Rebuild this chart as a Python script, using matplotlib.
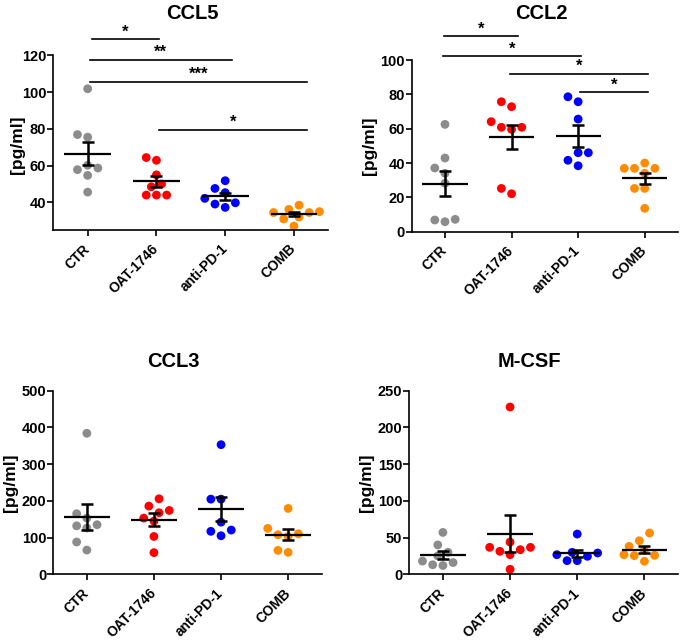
import numpy as np
import matplotlib
matplotlib.use('Agg')
import matplotlib.pyplot as plt

plt.rcParams['font.family'] = ['Liberation Sans', 'DejaVu Sans']
plt.rcParams['font.weight'] = 'bold'

# groups and colours
groups = ['CTR', 'OAT-1746', 'anti-PD-1', 'COMB']
group_colors = ['#8c8c8c', '#ff0000', '#0000ff', '#ff8c00']

# values, pg/ml
ccl5 = [
    [101.8, 76.9, 75.5, 60.2, 57.8, 58.7, 54.7, 45.6],
    [62.9, 64.4, 55.0, 48.5, 50.0, 44.0, 44.0, 44.0],
    [51.8, 47.6, 45.3, 39.8, 37.3, 39.1, 42.2],
    [38.5, 34.5, 36.2, 35.0, 31.0, 34.5, 27.1, 32.0],
]
ccl2 = [
    [62.5, 42.9, 37.1, 34.0, 28.2, 7.2, 5.8, 6.8],
    [64.1, 72.8, 75.7, 60.8, 59.6, 60.8, 22.1, 25.2],
    [78.6, 75.7, 65.6, 46.0, 46.0, 38.4, 41.6],
    [40.0, 36.9, 34.0, 36.9, 36.9, 25.2, 25.2, 13.6],
]
ccl3 = [
    [384, 153, 165, 132, 126, 135, 88, 66],
    [205.6, 167.6, 185.7, 173.9, 145, 153, 103, 59],
    [353, 204.7, 204.7, 142, 120.5, 117, 105],
    [179.3, 125, 107.8, 103, 110.5, 65.2, 59.8],
]
mcsf = [
    [57, 40, 30, 25, 18, 16, 12, 13],
    [227.8, 43.9, 31.3, 36.7, 36.7, 33.5, 26.7, 6.8],
    [54.8, 29.9, 29.0, 24.5, 26.7, 18.6, 18.6],
    [56.2, 45.7, 38.0, 32.6, 25.8, 25.4, 26.7, 17.7],
]

# significance comparisons (group i, group j, label)
ccl5_sig = [(0, 1, '*'), (0, 2, '**'), (0, 3, '***'), (1, 3, '*')]
ccl2_sig = [(0, 1, '*'), (0, 2, '*'), (1, 3, '*'), (2, 3, '*')]

W, H = 682, 643
fig = plt.figure(figsize=(W / 100, H / 100), dpi=100)


def px_axes(left, right, top, bottom):
    return fig.add_axes([left / W, 1 - bottom / H, (right - left) / W, (bottom - top) / H])


def swarm(vals, px_y, px_x, diam=8.5):
    vals = np.asarray(vals, float)
    gap = 1.2 * diam
    step = gap / 2
    placed = []
    offs = np.zeros(len(vals))
    for idx in np.argsort(vals):
        y = vals[idx] * px_y
        for k in [0, -1, 1, -2, 2, -3, 3, -4, 4, -5, 5]:
            x = k * step
            if all((x - a) ** 2 + (y - b) ** 2 >= 0.9 * gap ** 2 for a, b in placed):
                break
        placed.append((x, y))
        offs[idx] = x / px_x
    return offs


def panel(ax, data, ylim, yticks, sig=None, sig_y=None, sig_x=None):
    ax.set_xlim(-0.5, 3.5)
    ax.set_ylim(*ylim)
    bb = ax.get_position()
    px_x = bb.width * W / 4.0
    px_y = bb.height * H / (ylim[1] - ylim[0])
    for i, vals in enumerate(data):
        offs = swarm(vals, px_y, px_x)
        ax.scatter(i + offs, vals, s=40, color=group_colors[i], edgecolors='none',
                   zorder=2, clip_on=False)
        m = np.mean(vals)
        sem = np.std(vals, ddof=1) / np.sqrt(len(vals))
        ax.hlines(m, i - 0.34, i + 0.34, color='black', lw=1.6, zorder=3)
        ax.errorbar(i, m, yerr=sem, fmt='none', ecolor='black', elinewidth=1.8,
                    capsize=4.2, capthick=1.8, zorder=3)
    ax.set_yticks(yticks)
    ax.set_xticks(range(4))
    ax.set_xticklabels(groups, rotation=45, ha='right', va='center',
                       rotation_mode='anchor', fontsize=10, fontweight='bold')
    ax.tick_params(axis='x', length=4, width=1.2, pad=8)
    ax.tick_params(axis='y', length=4, width=1.2, pad=1, labelsize=10.5)
    for lab in ax.get_yticklabels():
        lab.set_fontweight('bold')
    for s in ['top', 'right']:
        ax.spines[s].set_visible(False)
    for s in ['left', 'bottom']:
        ax.spines[s].set_linewidth(1.2)
    if sig:
        for (i, j, lab), y, (x0, x1) in zip(sig, sig_y, sig_x):
            ax.plot([i + x0, j + x1], [y, y], color='black', lw=1.2, clip_on=False)
            ax.text((i + x0 + j + x1) / 2, y, lab, ha='center', va='bottom',
                    fontsize=12, fontweight='bold', clip_on=False)


ax1 = px_axes(53.3, 328.3, 55.3, 230)
panel(ax1, ccl5, (25, 120), [40, 60, 80, 100, 120], ccl5_sig,
      [128.7, 117.4, 105.7, 79.6],
      [(0.06, 0.04), (0.03, 0.1), (0.03, 0.19), (0.04, 0.19)])

ax2 = px_axes(411.7, 678, 60, 231.7)
panel(ax2, ccl2, (0, 100), [0, 20, 40, 60, 80, 100], ccl2_sig,
      [113.8, 102.1, 92.1, 81.1],
      [(-0.01, 0.1), (-0.03, 0.05), (-0.02, 0.05), (0.03, 0.05)])

ax3 = px_axes(53.3, 321.7, 390.7, 574.3)
panel(ax3, ccl3, (0, 500), [0, 100, 200, 300, 400, 500])

ax4 = px_axes(409.3, 678, 390.7, 574.3)
panel(ax4, mcsf, (0, 250), [0, 50, 100, 150, 200, 250])

# titles and y labels
titles = [('CCL5', 192, 13.3), ('CCL2', 541.7, 13.3), ('CCL3', 173.3, 361.7), ('M-CSF', 529, 361.7)]
for t, x, y in titles:
    fig.text(x / W, 1 - y / H, t, ha='center', va='center', fontsize=14.5, fontweight='bold')

ylabels = [(18, 145), (370, 146), (10.8, 482.8), (366.7, 482.8)]
for x, y in ylabels:
    fig.text(x / W, 1 - y / H, '[pg/ml]', ha='center', va='center', rotation=90,
             fontsize=12.5, fontweight='bold')

fig.savefig('out.png', dpi=100, facecolor='white')
